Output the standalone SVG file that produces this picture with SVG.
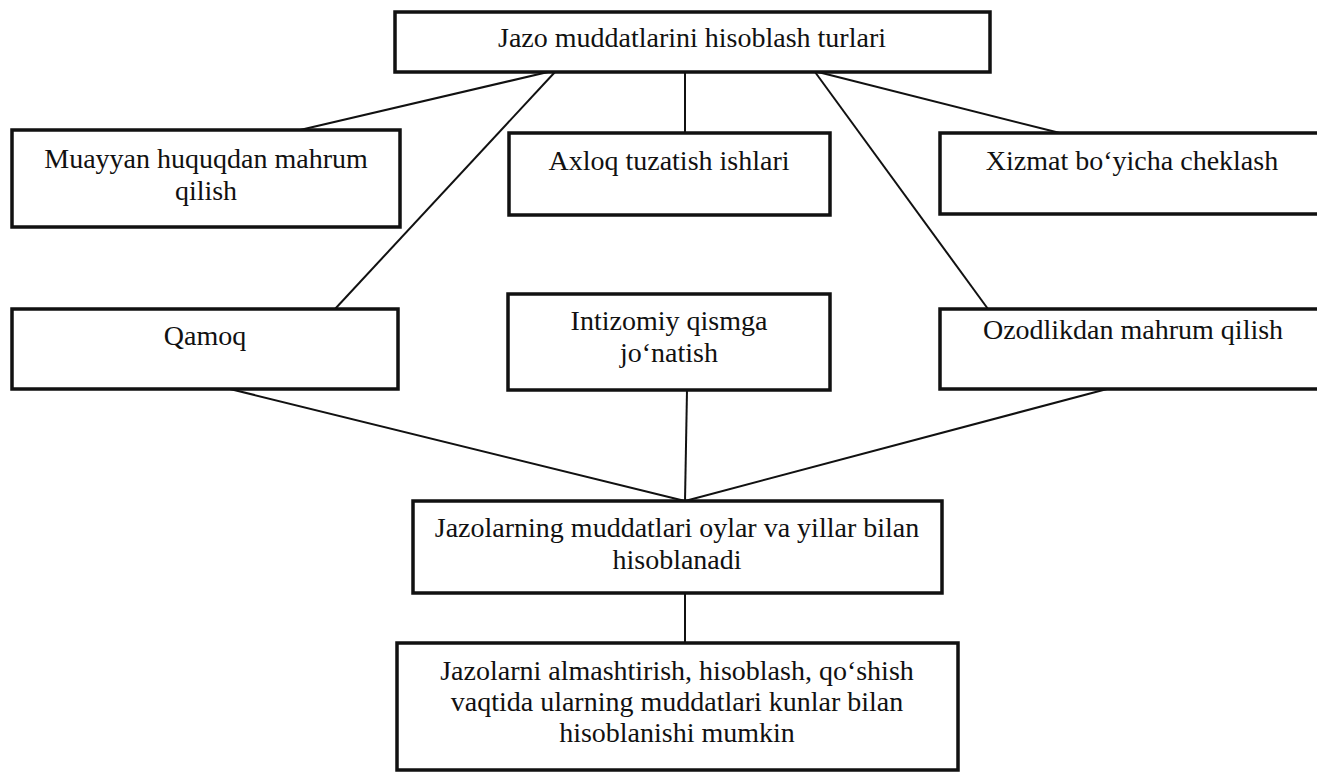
<svg xmlns="http://www.w3.org/2000/svg" width="1317" height="772" viewBox="0 0 1317 772">
<style>
.box{fill:#fff;stroke:#111;stroke-width:3.5}
.t{font-family:"Liberation Serif","Times New Roman",serif;font-size:28px;fill:#111;text-anchor:middle}
.ln{stroke:#111;stroke-width:2;fill:none}
</style>
<rect width="1317" height="772" fill="#fff"/>
<g id="connectors">
<line class="ln" x1="548" y1="72" x2="300" y2="130"/>
<line class="ln" x1="555" y1="72" x2="335" y2="309"/>
<line class="ln" x1="685" y1="72" x2="685" y2="133"/>
<line class="ln" x1="815" y1="72" x2="988" y2="309"/>
<line class="ln" x1="818" y1="72" x2="1060" y2="133"/>
<line class="ln" x1="230" y1="389" x2="685" y2="501"/>
<line class="ln" x1="687" y1="390" x2="685" y2="501"/>
<line class="ln" x1="1107" y1="389" x2="685" y2="501"/>
<line class="ln" x1="685" y1="593" x2="685" y2="643"/>
</g>
<g id="n_top">
<rect class="box" x="395" y="12" width="595" height="60"/>
<text class="t" x="692" y="47">Jazo muddatlarini hisoblash turlari</text>
</g>
<g id="n_muayyan">
<rect class="box" x="12" y="130" width="388" height="97"/>
<text class="t" x="206" y="168">Muayyan huquqdan mahrum</text>
<text class="t" x="206" y="200">qilish</text>
</g>
<g id="n_axloq">
<rect class="box" x="509" y="133" width="321" height="82"/>
<text class="t" x="669" y="170">Axloq tuzatish ishlari</text>
</g>
<g id="n_xizmat">
<rect class="box" x="940" y="133" width="382" height="81"/>
<text class="t" x="1132" y="170">Xizmat bo‘yicha cheklash</text>
</g>
<g id="n_qamoq">
<rect class="box" x="12" y="309" width="386" height="80"/>
<text class="t" x="205" y="345">Qamoq</text>
</g>
<g id="n_intizomiy">
<rect class="box" x="508" y="294" width="322" height="96"/>
<text class="t" x="669" y="330">Intizomiy qismga</text>
<text class="t" x="669" y="362">jo‘natish</text>
</g>
<g id="n_ozodlik">
<rect class="box" x="940" y="309" width="382" height="80"/>
<text class="t" x="1133" y="339">Ozodlikdan mahrum qilish</text>
</g>
<g id="n_oylar">
<rect class="box" x="413" y="501" width="529" height="92"/>
<text class="t" x="677" y="537">Jazolarning muddatlari oylar va yillar bilan</text>
<text class="t" x="677" y="569">hisoblanadi</text>
</g>
<g id="n_kunlar">
<rect class="box" x="397" y="643" width="561" height="127"/>
<text class="t" x="677" y="680">Jazolarni almashtirish, hisoblash, qo‘shish</text>
<text class="t" x="677" y="711">vaqtida ularning muddatlari kunlar bilan</text>
<text class="t" x="677" y="742">hisoblanishi mumkin</text>
</g>
</svg>
